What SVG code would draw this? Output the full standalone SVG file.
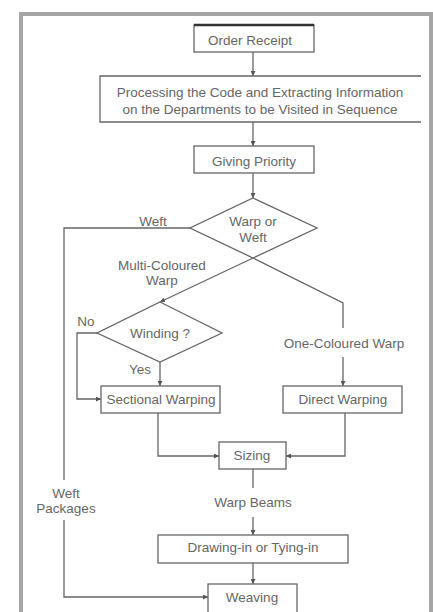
<svg xmlns="http://www.w3.org/2000/svg" width="433" height="612" viewBox="0 0 433 612">
<style>
.box{fill:#fff;stroke:#666;stroke-width:1.3}
.ln{fill:none;stroke:#666;stroke-width:1.3}
text{font-family:"Liberation Sans",Arial,sans-serif;font-size:13.5px;fill:#666;text-anchor:middle}
</style>
<defs>
<marker id="ah" viewBox="0 0 6 6" refX="6" refY="3" markerWidth="5" markerHeight="5" orient="auto" markerUnits="userSpaceOnUse">
<path d="M0,0 L6,3 L0,6 z" fill="#555"/>
</marker>
</defs>
<rect x="0" y="0" width="433" height="612" fill="#fff"/>
<rect x="21" y="14" width="410" height="610" fill="none" stroke="#a6a6a6" stroke-width="4"/>
<g id="connectors">
<path class="ln" d="M253,52 V76" marker-end="url(#ah)"/>
<path class="ln" d="M253,122 V146" marker-end="url(#ah)"/>
<path class="ln" d="M253,173 V198" marker-end="url(#ah)"/>
<path class="ln" d="M190,228 H64 V480"/>
<path class="ln" d="M64,520 V597 H208" marker-end="url(#ah)"/>
<path class="ln" d="M253,258 L160,302" marker-end="url(#ah)"/>
<path class="ln" d="M253,258 L343,303 V328"/>
<path class="ln" d="M343,357 V386" marker-end="url(#ah)"/>
<path class="ln" d="M97,333 H77 V399 H101" marker-end="url(#ah)"/>
<path class="ln" d="M160,362 V386" marker-end="url(#ah)"/>
<path class="ln" d="M158,413 V456 H219" marker-end="url(#ah)"/>
<path class="ln" d="M345,413 V456 H286" marker-end="url(#ah)"/>
<path class="ln" d="M253,469 V488"/>
<path class="ln" d="M253,517 V535" marker-end="url(#ah)"/>
<path class="ln" d="M253,563 V584" marker-end="url(#ah)"/>
<text x="153" y="225.5">Weft</text>
<text x="162" y="269.5">Multi-Coloured</text>
<text x="162" y="284.5">Warp</text>
<text x="86" y="325.5">No</text>
<text x="140" y="373.5">Yes</text>
<text x="344" y="347.5">One-Coloured Warp</text>
<text x="253" y="506.5">Warp Beams</text>
<text x="66" y="497.5">Weft</text>
<text x="66" y="512.5">Packages</text>
</g>
<g id="order-receipt">
<rect class="box" x="194" y="25" width="120" height="27"/>
<line x1="194" y1="25" x2="314" y2="25" stroke="#333" stroke-width="2.5"/>
<text x="250" y="44.5">Order Receipt</text>
</g>
<g id="processing">
<path fill="#fff" stroke="none" d="M100,76 H421 V122 H100 z"/>
<path class="ln" d="M421,76 H100 V122 H421"/>
<text x="260" y="96.5">Processing the Code and Extracting Information</text>
<text x="260" y="113.5">on the Departments to be Visited in Sequence</text>
</g>
<g id="giving-priority">
<rect class="box" x="194" y="146" width="120" height="27"/>
<text x="254" y="166">Giving Priority</text>
</g>
<g id="warp-or-weft">
<path class="box" d="M253,198 L317,228 L253,258 L190,228 z"/>
<text x="253" y="225.5">Warp or</text>
<text x="253" y="241.5">Weft</text>
</g>
<g id="winding">
<path class="box" d="M160,302 L222,333 L160,362 L97,333 z"/>
<text x="160" y="337.5">Winding ?</text>
</g>
<g id="sectional-warping">
<rect class="box" x="101" y="386" width="119" height="27"/>
<text x="161" y="403.5">Sectional Warping</text>
</g>
<g id="direct-warping">
<rect class="box" x="283" y="386" width="119" height="27"/>
<text x="343" y="403.5">Direct Warping</text>
</g>
<g id="sizing">
<rect class="box" x="219" y="442" width="67" height="27"/>
<text x="252" y="460">Sizing</text>
</g>
<g id="drawing-in">
<rect class="box" x="158" y="535" width="190" height="28"/>
<text x="253" y="551.5">Drawing-in or Tying-in</text>
</g>
<g id="weaving">
<rect class="box" x="208" y="584" width="89" height="30"/>
<text x="252" y="602">Weaving</text>
</g>
</svg>
